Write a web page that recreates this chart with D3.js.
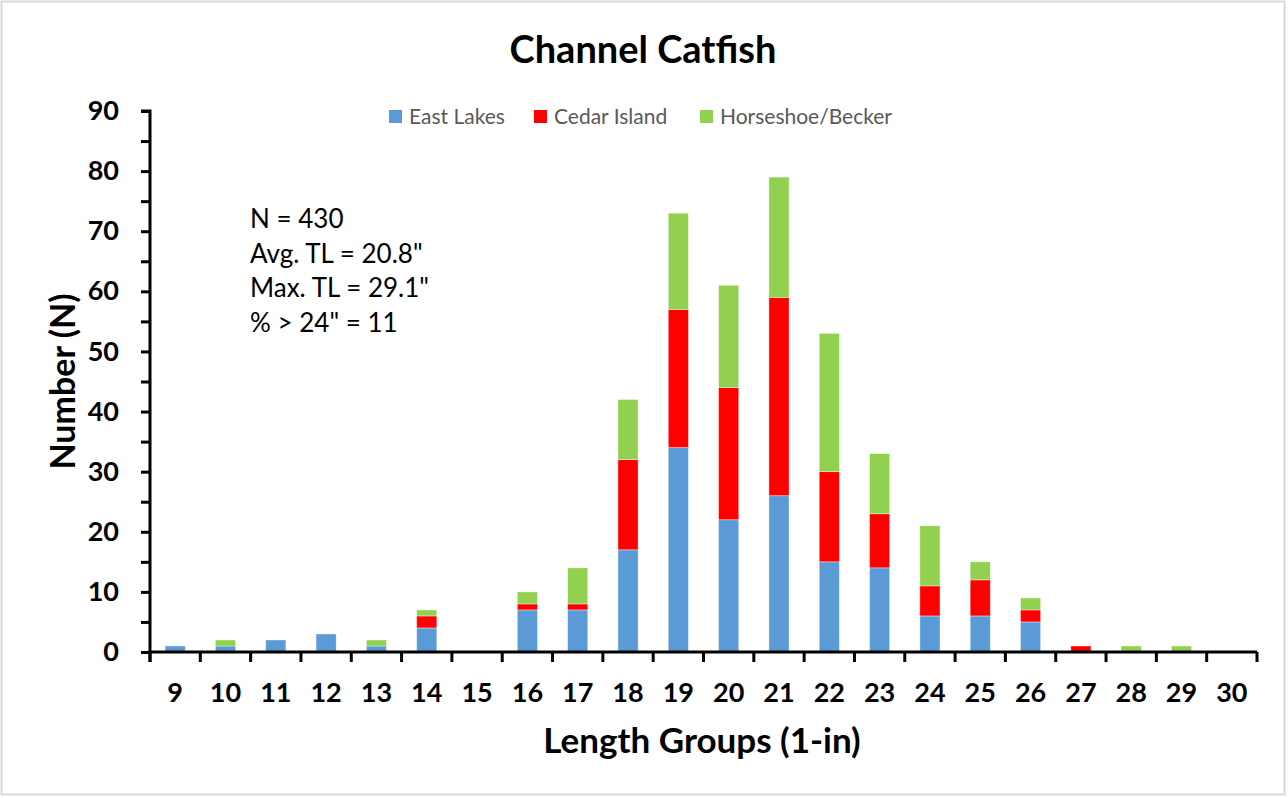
<!DOCTYPE html>
<html>
<head>
<meta charset="utf-8">
<script src="https://cdn.jsdelivr.net/npm/d3@7"></script>
<style>
  html, body { margin: 0; padding: 0; background: #fff; }
  svg { display: block; }
</style>
</head>
<body>
<svg id="chart"></svg>
<script>
// Data
const lengthGroups = [9, 10, 11, 12, 13, 14, 15, 16, 17, 18, 19, 20, 21, 22, 23, 24, 25, 26, 27, 28, 29, 30];
const eastLakes    = [1, 1, 2, 3, 1, 4, 0, 7, 7, 17, 34, 22, 26, 15, 14, 6, 6, 5, 0, 0, 0, 0];
const cedarIsland  = [0, 0, 0, 0, 0, 2, 0, 1, 1, 15, 23, 22, 33, 15, 9, 5, 6, 2, 1, 0, 0, 0];
const horseshoe    = [0, 1, 0, 0, 1, 1, 0, 2, 6, 10, 16, 17, 20, 23, 10, 10, 3, 2, 0, 1, 1, 0];
const seriesNames  = ['East Lakes', 'Cedar Island', 'Horseshoe/Becker'];
const seriesColors = ['#5B9BD5', '#FF0000', '#92D050'];
const yTicks = [0, 10, 20, 30, 40, 50, 60, 70, 80, 90];
const statsLines = ['N = 430', 'Avg. TL = 20.8"', 'Max. TL = 29.1"', '% > 24" = 11'];

const width = 1288;
const height = 798;
const font = 'Lato, "Open Sans", sans-serif';
const margin = { top: 111, right: 31, bottom: 146, left: 150 };

const svg = d3.select('#chart')
    .attr('width', width)
    .attr('height', height);

// Outer border
svg.append('rect')
    .attr('x', 1.5).attr('y', 1.5)
    .attr('width', width - 5).attr('height', height - 5)
    .attr('fill', '#fff')
    .attr('stroke', '#d9d9d9')
    .attr('stroke-width', 2);

const rows = lengthGroups.map((g, i) => ({
    group: g,
    'East Lakes': eastLakes[i],
    'Cedar Island': cedarIsland[i],
    'Horseshoe/Becker': horseshoe[i]
}));

const stacked = d3.stack().keys(seriesNames)(rows);

const x = d3.scaleBand()
    .domain(lengthGroups)
    .range([margin.left, width - margin.right])
    .paddingInner(0.6)
    .paddingOuter(0.3);

const y = d3.scaleLinear()
    .domain([0, 90])
    .range([height - margin.bottom, margin.top]);

const color = d3.scaleOrdinal().domain(seriesNames).range(seriesColors);

// Bars
const layer = svg.append('g')
    .selectAll('g')
    .data(stacked)
    .join('g')
    .attr('fill', d => color(d.key));

layer.selectAll('rect')
    .data(d => d.filter(s => s[1] > s[0]))
    .join('rect')
    .attr('x', d => x(d.data.group))
    .attr('width', x.bandwidth())
    .attr('y', d => y(d[1]))
    .attr('height', d => y(d[0]) - y(d[1]))
    .attr('stroke', '#ffffff')
    .attr('stroke-opacity', 0.5)
    .attr('stroke-width', 0.75);

// Y axis
const yAxis = d3.axisLeft(y)
    .tickValues(d3.range(0, 91, 5))
    .tickSize(9)
    .tickFormat(d => yTicks.includes(d) ? d : '');

const yG = svg.append('g')
    .attr('transform', `translate(${margin.left},0)`)
    .call(yAxis);
yG.select('.domain').attr('stroke', '#000').attr('stroke-width', 3)
    .attr('d', `M-9,${y(90)}H0V${y(0) + 10}`);
yG.selectAll('.tick line').attr('stroke', '#000').attr('stroke-width', 3);
yG.selectAll('.tick text')
    .attr('x', -31)
    .attr('fill', '#000')
    .style('font-family', font)
    .style('font-weight', 'bold')
    .style('font-size', '27px');

// X axis
const xAxis = d3.axisBottom(x).tickSize(0);
const xG = svg.append('g')
    .attr('transform', `translate(0,${y(0)})`)
    .call(xAxis);
xG.select('.domain').attr('stroke', '#000').attr('stroke-width', 3)
    .attr('d', `M${margin.left},0H${width - margin.right}`);
xG.selectAll('.tick text')
    .attr('y', 31)
    .attr('fill', '#000')
    .style('font-family', font)
    .style('font-weight', 'bold')
    .style('font-size', '27px');

// Category separator ticks
const step = x.step();
const sepPositions = d3.range(lengthGroups.length + 1).map(i => margin.left + i * step);
xG.selectAll('.sep')
    .data(sepPositions)
    .join('line')
    .attr('class', 'sep')
    .attr('x1', d => d).attr('x2', d => d)
    .attr('y1', 0).attr('y2', 10)
    .attr('stroke', '#000')
    .attr('stroke-width', 3);

// Title
svg.append('text')
    .attr('x', 643)
    .attr('y', 63)
    .attr('text-anchor', 'middle')
    .style('font-family', font)
    .style('font-weight', 'bold')
    .style('font-size', '38px')
    .text('Channel Catfish');

// Axis titles
svg.append('text')
    .attr('x', 702)
    .attr('y', 753)
    .attr('text-anchor', 'middle')
    .style('font-family', font)
    .style('font-weight', 'bold')
    .style('font-size', '35px')
    .text('Length Groups (1-in)');

svg.append('text')
    .attr('transform', `translate(75,${(y(0) + y(90)) / 2}) rotate(-90)`)
    .attr('text-anchor', 'middle')
    .style('font-family', font)
    .style('font-weight', 'bold')
    .style('font-size', '34px')
    .text('Number (N)');

// Legend
const legendItems = [
    { name: seriesNames[0], x: 389 },
    { name: seriesNames[1], x: 534 },
    { name: seriesNames[2], x: 700 }
];
const legend = svg.append('g')
    .selectAll('g')
    .data(legendItems)
    .join('g')
    .attr('transform', d => `translate(${d.x},110)`);
legend.append('rect')
    .attr('width', 13).attr('height', 13)
    .attr('fill', d => color(d.name));
legend.append('text')
    .attr('x', 20)
    .attr('y', 14)
    .attr('fill', '#595959')
    .style('font-family', font)
    .style('font-size', '21px')
    .text(d => d.name);

// Stats box
svg.append('g')
    .selectAll('text')
    .data(statsLines)
    .join('text')
    .attr('x', 250)
    .attr('y', (d, i) => 228 + i * 34.7)
    .style('font-family', font)
    .style('font-size', '26px')
    .attr('fill', '#000')
    .text(d => d);
</script>
</body>
</html>
